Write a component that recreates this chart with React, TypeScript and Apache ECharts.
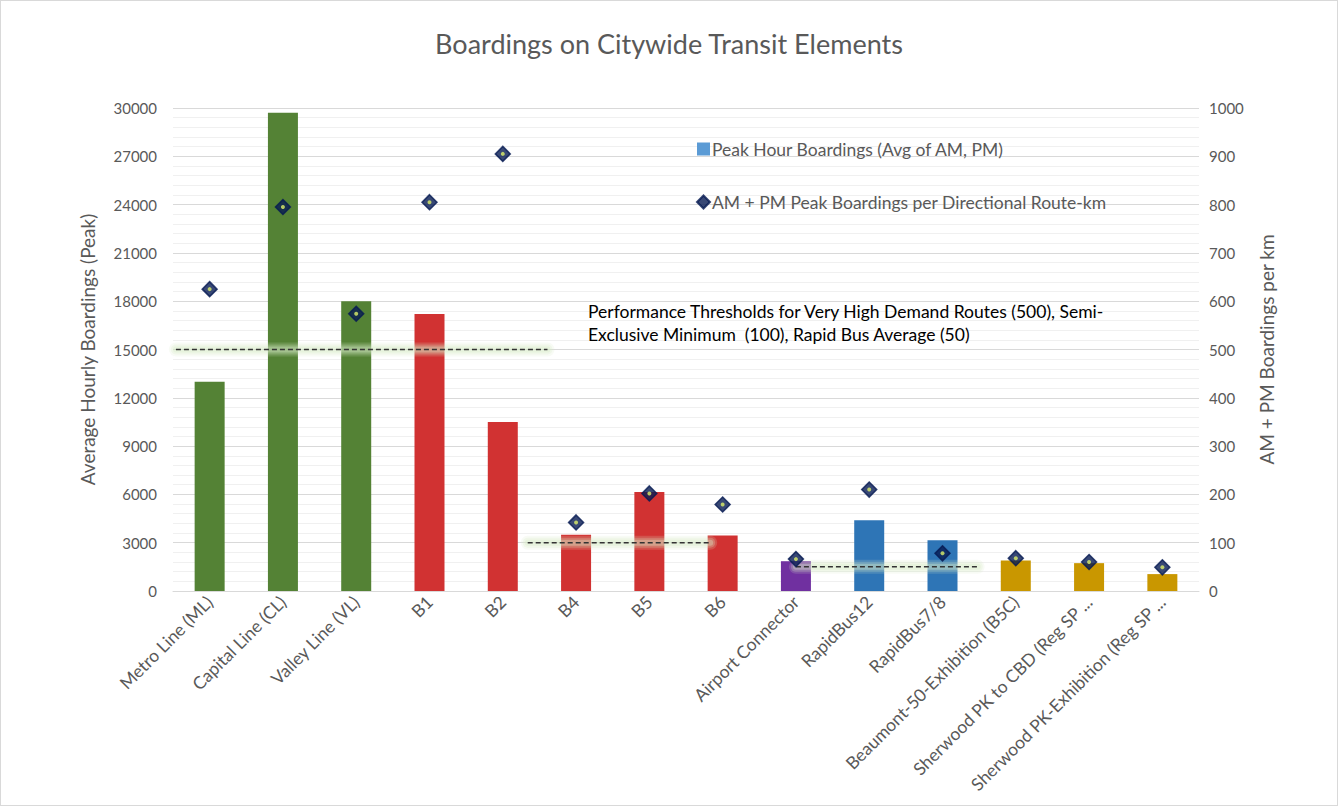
import React, { useEffect, useRef } from "react";
import * as echarts from "echarts";

const categories = [
  "Metro Line (ML)",
  "Capital Line (CL)",
  "Valley Line (VL)",
  "B1",
  "B2",
  "B4",
  "B5",
  "B6",
  "Airport Connector",
  "RapidBus12",
  "RapidBus7/8",
  "Beaumont-50-Exhibition (B5C)",
  "Sherwood PK to CBD (Reg SP ...",
  "Sherwood PK-Exhibition (Reg SP ...",
];
const peakBoardings = [13000, 29700, 18000, 17200, 10500, 3500, 6150, 3450, 1850, 4400, 3150, 1900, 1730, 1050];
const barColors = [
  "#548235", "#548235", "#548235",
  "#D13232", "#D13232", "#D13232", "#D13232", "#D13232",
  "#7030A0",
  "#2E75B6", "#2E75B6",
  "#C99700", "#C99700", "#C99700",
];
const perKm = [625, 795, 574, 805, 905, 142, 202, 179, 66, 210, 78, 68, 60, 49];
// threshold lines: [xStart, xEnd, value] in category-position units
const thresholds = [
  [0.04, 5.11, 500],
  [4.84, 7.33, 100],
  [8.5, 10.98, 50],
];
const leftTicks = { min: 0, max: 30000, interval: 3000 };
const rightTicks = { min: 0, max: 1000, interval: 100 };

const FONT = "Lato, 'Open Sans', sans-serif";
const GREY = "#595959";

export default function App() {
  const ref = useRef<HTMLDivElement>(null);
  useEffect(() => {
    if (!ref.current) return;
    const chart = echarts.init(ref.current, undefined, { renderer: "svg" });
    const thresholdSeries: any[] = [];
    const glowLayers = [
      { w: 14, a: 0.18 },
      { w: 10, a: 0.25 },
      { w: 6, a: 0.35 },
    ];
    thresholds.forEach((t, i) => {
      const data = [[t[0], t[2]], [t[1], t[2]]];
      glowLayers.forEach((g, j) => {
        thresholdSeries.push({
          name: "glow" + i + "_" + j,
          type: "line",
          xAxisIndex: 1,
          yAxisIndex: 1,
          data,
          symbol: "none",
          silent: true,
          z: 5,
          lineStyle: { color: `rgba(215,235,200,${g.a})`, width: g.w, cap: "round" },
        });
      });
      thresholdSeries.push({
        name: "thr" + i,
        type: "line",
        xAxisIndex: 1,
        yAxisIndex: 1,
        data,
        symbol: "none",
        silent: true,
        z: 6,
        lineStyle: { color: "#333333", width: 1.5, type: [5, 3] },
      });
    });
    chart.setOption({
      animation: false,
      textStyle: { fontFamily: FONT },
      title: {
        text: "Boardings on Citywide Transit Elements",
        left: "center",
        top: 24,
        textStyle: { fontFamily: FONT, fontSize: 27, fontWeight: "normal", color: GREY },
      },
      legend: {
        data: [
          { name: "Peak Hour Boardings (Avg of AM, PM)", icon: "rect", itemStyle: { color: "#5B9BD5" } },
          { name: "AM + PM Peak Boardings per Directional Route-km", icon: "diamond" },
        ],
        orient: "vertical",
        left: 690,
        top: 134,
        itemGap: 35,
        itemWidth: 13,
        itemHeight: 13,
        textStyle: { fontFamily: FONT, fontSize: 17.5, color: GREY, padding: [0, 0, 0, -3] },
      },
      grid: { left: 172, right: 138, top: 107, bottom: 214, containLabel: false },
      xAxis: [
        {
          type: "category",
          data: categories,
          axisLine: { lineStyle: { color: "#d9d9d9", width: 1 } },
          axisTick: { show: false },
          axisLabel: {
            rotate: 45,
            interval: 0,
            color: GREY,
            fontSize: 17.5,
            fontFamily: FONT,
            margin: 8,
          },
        },
        { type: "value", min: 0, max: 14, show: false },
      ],
      yAxis: [
        {
          type: "value",
          min: leftTicks.min,
          max: leftTicks.max,
          interval: leftTicks.interval,
          name: "Average Hourly Boardings (Peak)",
          nameLocation: "middle",
          nameGap: 76,
          nameTextStyle: { fontFamily: FONT, fontSize: 19, color: GREY },
          axisLabel: { color: GREY, fontSize: 15, fontFamily: FONT, margin: 16, formatter: (v: number) => String(v) },
          axisLine: { show: false },
          axisTick: { show: false },
          splitLine: { lineStyle: { color: "#d9d9d9" } },
          minorTick: { show: false, splitNumber: 5 },
          minorSplitLine: { show: true, lineStyle: { color: "#f0f0f0" } },
        },
        {
          type: "value",
          min: rightTicks.min,
          max: rightTicks.max,
          interval: rightTicks.interval,
          name: "AM + PM Boardings per km",
          nameLocation: "middle",
          nameGap: 58,
          nameRotate: 90,
          nameTextStyle: { fontFamily: FONT, fontSize: 19, color: GREY },
          axisLabel: { color: GREY, fontSize: 15, fontFamily: FONT, margin: 10, formatter: (v: number) => String(v) },
          axisLine: { show: false },
          axisTick: { show: false },
          splitLine: { show: false },
        },
      ],
      graphic: [
        {
          type: "text",
          left: 587,
          top: 299,
          style: {
            text:
              "Performance Thresholds for Very High Demand Routes (500), Semi-\nExclusive Minimum  (100), Rapid Bus Average (50)",
            fontFamily: FONT,
            fontSize: 17.5,
            lineHeight: 23,
            fill: "#000000",
          },
          z: 10,
        },
      ],
      series: [
        {
          name: "Peak Hour Boardings (Avg of AM, PM)",
          type: "bar",
          barWidth: 30,
          itemStyle: { color: "#5B9BD5" },
          data: peakBoardings.map((v, i) => ({ value: v, itemStyle: { color: barColors[i] } })),
          z: 2,
        },
        ...thresholdSeries,
        {
          name: "AM + PM Peak Boardings per Directional Route-km",
          type: "scatter",
          yAxisIndex: 1,
          symbol: "diamond",
          symbolSize: 15,
          itemStyle: { color: "#061A52", borderColor: "#061A52", borderWidth: 1.5 },
          emphasis: { disabled: true },
          data: perKm,
          z: 8,
        },
        {
          name: "dot",
          type: "scatter",
          yAxisIndex: 1,
          symbol: "circle",
          symbolSize: 4,
          itemStyle: { color: "#DDF06A" },
          data: perKm,
          silent: true,
          z: 9,
        },
      ],
    });
    return () => chart.dispose();
  }, []);
  return (
    <div
      style={{
        position: "absolute",
        left: 0,
        top: 0,
        width: 1336,
        height: 804,
        border: "1px solid #d9d9d9",
        background: "#fff",
      }}
    >
      <div ref={ref} style={{ width: 1336, height: 804 }} />
    </div>
  );
}
